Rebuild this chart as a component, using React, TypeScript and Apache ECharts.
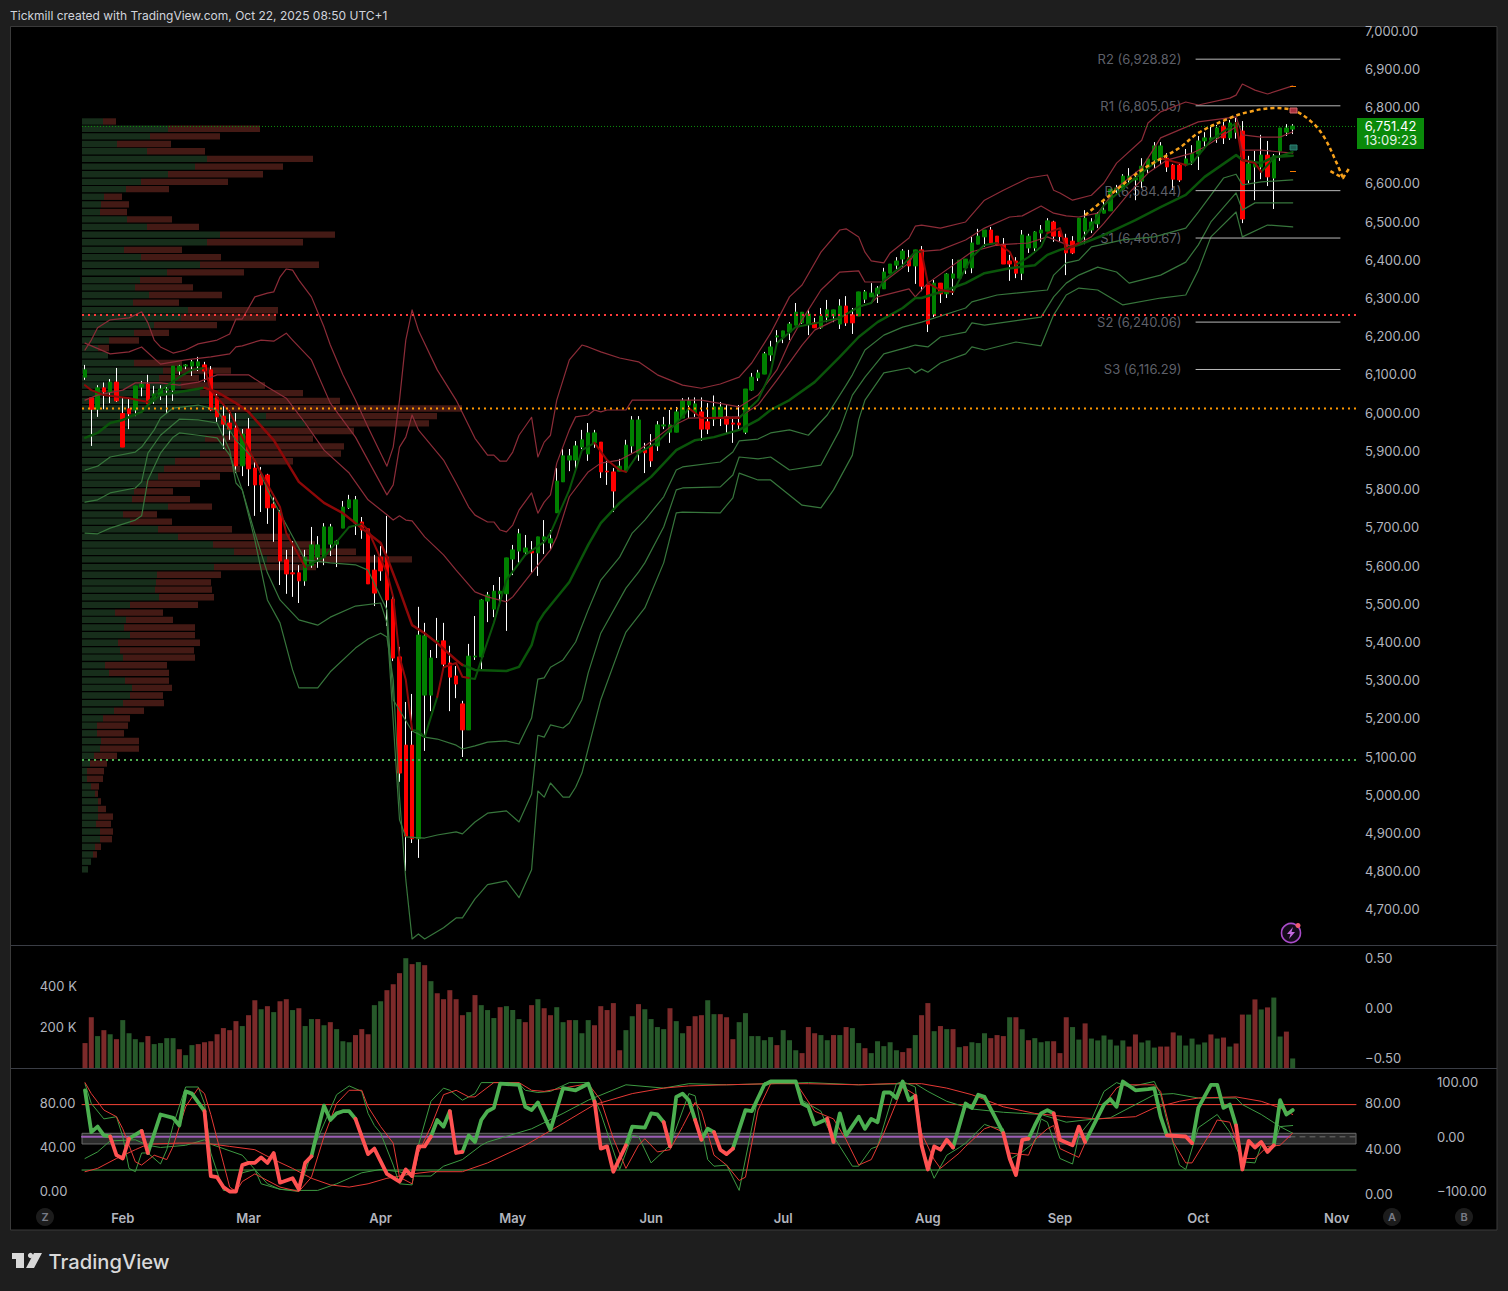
import React, { useEffect, useRef } from "react";
import * as echarts from "echarts";

type P = [number, number];

const LEAD = 11;
const SLOTS = 214;
const monthAt: Record<number, string> = { 6: "Feb", 26: "Mar", 47: "Apr", 68: "May", 90: "Jun", 111: "Jul", 134: "Aug", 155: "Sep", 177: "Oct", 199: "Nov" };

const opens = [6093,6039,6009,6065,6054,6080,5998,6010,6007,6067,6075,6036,6046,6059,6059,6109,6122,6122,6122,6125,6112,6039,5991,5973,5960,5861,5957,5855,5837,5837,5761,5740,5615,5581,5581,5560,5601,5622,5622,5656,5656,5698,5751,5711,5714,5696,5588,5622,5622,5512,5361,5130,5130,4885,5261,5261,5400,5403,5345,5311,5238,5170,5361,5361,5507,5486,5526,5526,5617,5638,5635,5638,5633,5667,5659,5738,5819,5876,5876,5910,5892,5921,5923,5847,5845,5847,5847,5913,5895,5902,5915,5913,5965,5949,5949,5986,6020,5999,6002,5976,5983,5986,5989,5973,5973,5949,6059,6091,6101,6151,6198,6198,6211,6229,6235,6232,6235,6222,6250,6253,6232,6279,6256,6253,6297,6303,6311,6324,6365,6386,6402,6405,6384,6426,6334,6258,6339,6311,6352,6352,6379,6379,6441,6460,6478,6462,6441,6397,6397,6365,6431,6431,6470,6475,6499,6475,6457,6449,6447,6475,6478,6494,6522,6528,6583,6585,6609,6609,6606,6640,6661,6664,6666,6648,6648,6648,6658,6677,6711,6714,6719,6750,6719,6734,6737,6609,6643,6643,6674,6614,6685,6734,6742];
const closes = [6112,6009,6065,6054,6080,6031,5910,5997,6070,6075,6023,6049,6062,6062,6122,6122,6125,6133,6133,6109,6007,5989,5970,5957,5861,5944,5853,5811,5811,5751,5751,5612,5578,5578,5560,5622,5654,5654,5701,5701,5664,5753,5772,5772,5693,5552,5528,5586,5510,5358,5057,4892,4885,5418,5416,5358,5403,5342,5308,5290,5170,5363,5363,5510,5523,5533,5533,5620,5641,5683,5646,5633,5675,5675,5670,5821,5887,5887,5913,5929,5947,5947,5845,5845,5795,5860,5915,5981,5981,5895,5874,5968,5968,5968,6002,6031,6031,6023,5957,5957,6015,6015,5970,5970,5968,6062,6093,6104,6154,6172,6201,6214,6232,6263,6263,6258,6222,6253,6269,6269,6279,6235,6235,6316,6316,6313,6326,6368,6389,6397,6423,6384,6426,6331,6232,6339,6311,6363,6363,6399,6402,6444,6462,6478,6444,6438,6389,6389,6365,6465,6462,6473,6478,6502,6462,6461,6418,6418,6509,6509,6499,6520,6530,6585,6588,6619,6619,6614,6645,6664,6698,6698,6643,6611,6609,6664,6679,6711,6719,6719,6745,6719,6758,6758,6507,6651,6651,6674,6617,6672,6745,6745,6750];
const lows = [6086,5913,5989,6009,6025,6028,5910,5957,5991,6043,6018,6023,6033,5997,6031,6099,6114,6096,6109,6080,6004,5976,5905,5929,5842,5834,5808,5730,5740,5709,5662,5549,5526,5518,5502,5547,5594,5594,5601,5625,5596,5698,5748,5680,5670,5552,5494,5560,5442,5350,5034,4801,4874,4835,5115,5219,5358,5332,5219,5253,5099,5170,5353,5327,5452,5465,5494,5429,5575,5607,5628,5581,5573,5630,5641,5738,5819,5847,5847,5905,5874,5908,5829,5811,5740,5847,5847,5895,5874,5842,5858,5900,5957,5921,5949,5986,5986,5989,5926,5944,5965,5965,5947,5921,5955,5944,6057,6083,6101,6135,6177,6182,6190,6229,6232,6203,6222,6219,6237,6237,6219,6227,6206,6253,6287,6303,6287,6324,6365,6371,6381,6368,6337,6318,6211,6250,6287,6300,6308,6345,6363,6365,6441,6434,6441,6437,6389,6345,6352,6347,6418,6423,6447,6475,6447,6449,6360,6415,6447,6441,6470,6483,6522,6528,6570,6583,6598,6556,6588,6627,6638,6651,6630,6583,6604,6645,6648,6635,6695,6714,6706,6703,6714,6717,6496,6601,6556,6611,6593,6533,6659,6724,6729];
const highs = [6125,6039,6072,6079,6088,6117,6039,6039,6070,6083,6099,6070,6072,6072,6122,6125,6127,6138,6146,6133,6122,6049,6020,6007,5999,5957,5986,5871,5858,5840,5779,5745,5641,5664,5601,5641,5701,5677,5711,5709,5667,5769,5785,5782,5727,5698,5628,5651,5730,5523,5387,5243,5264,5492,5450,5379,5463,5450,5390,5337,5246,5395,5468,5512,5531,5549,5570,5620,5654,5696,5680,5664,5675,5719,5693,5855,5905,5905,5926,5955,5973,5955,5923,5874,5855,5879,5929,5991,5991,5921,5944,5978,5989,6007,6015,6038,6040,6040,6040,6025,6045,6028,6020,5989,6020,6062,6104,6112,6159,6188,6216,6214,6237,6287,6263,6271,6248,6274,6295,6269,6297,6305,6274,6316,6321,6339,6331,6379,6389,6407,6428,6426,6426,6436,6334,6347,6339,6365,6402,6399,6402,6460,6481,6478,6486,6462,6457,6413,6407,6478,6468,6475,6491,6509,6502,6475,6468,6462,6509,6530,6509,6525,6556,6585,6596,6624,6640,6630,6666,6664,6708,6708,6679,6651,6651,6690,6700,6724,6734,6750,6753,6761,6766,6771,6763,6672,6685,6727,6711,6677,6745,6755,6755];

const volumes = [124,250,158,187,167,143,236,172,143,128,158,119,124,148,148,94,65,114,119,128,133,167,197,187,231,207,260,333,289,304,275,328,338,285,294,207,241,241,211,226,192,133,128,163,192,167,309,328,382,411,465,538,509,519,504,426,367,338,382,338,260,275,358,309,285,246,299,304,285,241,226,309,338,294,260,299,226,236,236,172,236,211,304,285,319,89,187,255,314,289,241,202,192,294,231,172,207,255,260,333,265,265,250,143,226,270,158,158,138,153,114,187,138,89,75,202,172,163,138,163,163,202,197,124,99,75,133,109,128,89,80,99,163,260,319,182,207,192,192,104,109,128,124,172,148,163,158,250,250,192,138,148,128,133,133,75,250,202,141,220,146,137,161,141,112,137,107,166,127,137,102,107,107,176,161,112,146,117,127,166,146,151,107,122,263,263,337,288,298,346,156,180,49];
const volumeTone = "RRGRGRGGGG" + "RGGGGRGGRR" + "RRRRRGRRGR" + "GRRGRGGRGR" + "GGGRRRGGRR" + "RGRGRGRRRR" + "RGRGGGRGGG" + "RRGRRGGRGG" + "GRRRRRGGRG" + "GGGRGGRRRG" + "GRRRGGGGGG" + "RGGGRRRGGR" + "GRGGRGGGGG" + "RRGRRGRGRG" + "RGGGRRRGRG" + "RGGGRRRGGR" + "GGGGGGRRGG" + "GRRRGGGGGR" + "GRGRRGRGRG" + "GRG";

const profileLevels = [6762,6743,6723,6703,6684,6664,6644,6624,6604,6585,6565,6545,6525,6506,6486,6466,6446,6426,6407,6387,6367,6347,6328,6308,6288,6268,6249,6229,6209,6189,6169,6150,6130,6110,6090,6071,6051,6031,6011,5991,5972,5952,5932,5912,5893,5873,5853,5833,5814,5794,5774,5754,5734,5715,5695,5675,5655,5636,5616,5596,5576,5556,5537,5517,5497,5477,5458,5438,5418,5398,5378,5359,5339,5319,5299,5280,5260,5240,5220,5200,5181,5161,5141,5121,5102,5082,5062,5042,5022,5003,4983,4963,4943,4924,4904,4884,4864,4844,4825,4805];
const profileUp = [21,86,68,35,65,125,113,86,59,44,22,19,18,45,65,138,125,42,59,118,85,58,53,67,51,106,99,72,52,27,16,26,52,81,77,99,118,138,145,184,223,161,123,143,118,93,82,76,64,52,50,86,41,48,76,96,131,152,185,132,75,74,73,77,48,33,44,42,48,36,38,41,23,27,43,50,48,41,32,21,15,15,19,18,12,8,5,5,9,13,16,16,16,14,18,18,13,11,9,6];
const profileDown = [13,92,70,54,58,106,88,95,87,43,18,28,27,45,52,115,96,58,80,119,77,42,58,73,46,90,95,63,35,30,11,0,48,68,40,84,103,120,235,171,124,111,108,119,141,118,76,62,54,39,58,44,34,42,74,112,102,122,145,102,64,55,57,55,68,48,47,71,65,82,74,72,62,60,44,40,33,41,30,27,31,27,38,39,23,17,17,16,8,3,3,8,15,15,13,12,6,4,0,0];

const upper3: P[] = [[0,6164],[1,6190],[2,6222],[4,6243],[7,6248],[9,6264],[10,6235],[11,6190],[12,6172],[14,6156],[16,6164],[18,6180],[21,6190],[23,6206],[24,6245],[25,6245],[27,6303],[29,6313],[30,6316],[31,6355],[32,6376],[33,6373],[34,6347],[36,6303],[38,6224],[39,6177],[41,6099],[43,6033],[45,5962],[48,5860],[49,5910],[50,6033],[51,6190],[52,6269],[53,6216],[56,6112],[59,6033],[62,5933],[64,5889],[65,5889],[66,5873],[67,5873],[68,5897],[69,5941],[71,5988],[72,5884],[73,5923],[74,5941],[75,6033],[77,6138],[79,6177],[80,6172],[82,6159],[85,6143],[88,6133],[91,6099],[95,6072],[98,6064],[101,6075],[104,6093],[106,6130],[109,6208],[112,6303],[114,6334],[117,6420],[120,6478],[121,6481],[123,6460],[124,6420],[125,6397],[127,6392],[128,6418],[131,6457],[132,6488],[133,6491],[136,6483],[140,6499],[143,6556],[146,6582],[150,6614],[153,6622],[154,6582],[155,6575],[157,6556],[160,6569],[162,6601],[164,6653],[168,6713],[169,6758],[171,6787],[175,6813],[177,6805],[182,6823],[183,6831],[184,6860],[186,6844],[188,6834],[192,6855]];
const upper2: P[] = [[0,6182],[4,6154],[7,6159],[9,6172],[12,6127],[16,6138],[20,6146],[23,6154],[24,6172],[25,6175],[28,6190],[30,6187],[32,6208],[33,6190],[36,6138],[39,6025],[43,5936],[48,5785],[49,5811],[50,5910],[51,5936],[52,5994],[53,5955],[57,5876],[59,5816],[61,5753],[62,5732],[64,5714],[65,5714],[66,5693],[67,5688],[68,5706],[69,5745],[71,5790],[72,5737],[73,5766],[74,5785],[75,5868],[77,5955],[78,5989],[80,5994],[81,6007],[82,6002],[83,6007],[86,6007],[87,6033],[90,6033],[98,6033],[104,6015],[107,6046],[110,6112],[112,6185],[114,6243],[117,6321],[120,6368],[123,6371],[124,6342],[127,6342],[131,6392],[132,6421],[136,6426],[140,6452],[143,6483],[147,6512],[149,6515],[152,6541],[154,6522],[156,6515],[158,6512],[161,6522],[162,6543],[164,6588],[168,6640],[171,6719],[177,6761],[183,6774],[184,6727],[187,6721],[190,6721],[192,6735]];
const upper1: P[] = [[0,6033],[2,6046],[6,6059],[8,6078],[12,6078],[15,6072],[18,6080],[21,6099],[26,6099],[29,6067],[32,6038],[35,5973],[38,5902],[42,5842],[45,5772],[48,5733],[49,5719],[50,5730],[51,5719],[52,5717],[54,5675],[57,5628],[59,5588],[62,5531],[64,5518],[67,5505],[68,5518],[71,5581],[74,5641],[75,5675],[77,5780],[80,5845],[82,5868],[85,5876],[88,5902],[91,5936],[93,5962],[96,5986],[104,5989],[107,6020],[110,6085],[114,6177],[116,6216],[120,6248],[123,6277],[125,6287],[126,6303],[131,6324],[132,6303],[134,6339],[141,6421],[145,6439],[150,6444],[153,6460],[157,6434],[160,6460],[162,6496],[166,6575],[169,6627],[172,6661],[176,6679],[178,6695],[183,6748],[184,6687],[187,6687],[192,6679]];
const lower1: P[] = [[0,5850],[2,5860],[4,5884],[8,5897],[9,5910],[11,5955],[12,5986],[14,6012],[18,6020],[21,6007],[24,5928],[27,5876],[29,5798],[35,5615],[39,5607],[43,5602],[45,5588],[48,5484],[49,5249],[52,5167],[54,5151],[56,5146],[59,5130],[60,5120],[62,5128],[64,5138],[67,5141],[69,5133],[71,5201],[72,5303],[73,5306],[74,5334],[76,5353],[78,5400],[80,5484],[82,5562],[85,5622],[87,5685],[89,5719],[92,5780],[94,5850],[95,5858],[101,5871],[103,5897],[104,5926],[107,5931],[109,5947],[112,5955],[115,5941],[118,5994],[121,6072],[122,6099],[124,6164],[127,6203],[130,6224],[133,6237],[140,6274],[141,6290],[145,6308],[153,6321],[154,6360],[156,6392],[158,6399],[160,6434],[165,6452],[170,6460],[175,6483],[177,6525],[181,6614],[183,6624],[184,6596],[187,6604],[192,6609]];
const lower2: P[] = [[0,5766],[2,5772],[4,5790],[8,5803],[9,5819],[10,5894],[12,5941],[15,5983],[18,5981],[21,5973],[23,5902],[24,5816],[25,5798],[27,5685],[29,5581],[31,5510],[34,5458],[37,5444],[39,5465],[43,5494],[47,5502],[48,5450],[50,4935],[51,4890],[54,4887],[56,4895],[59,4903],[60,4898],[62,4929],[64,4952],[67,4958],[69,4929],[71,5002],[72,5156],[73,5151],[74,5183],[76,5175],[77,5188],[79,5249],[80,5319],[82,5423],[86,5541],[88,5583],[89,5607],[92,5701],[94,5798],[95,5803],[101,5806],[103,5837],[104,5884],[107,5879],[109,5884],[112,5850],[117,5863],[120,5955],[122,6046],[124,6093],[127,6154],[131,6172],[132,6177],[134,6172],[136,6198],[140,6211],[141,6235],[143,6229],[152,6250],[154,6303],[156,6339],[158,6360],[161,6381],[164,6368],[166,6339],[171,6360],[175,6394],[177,6439],[179,6499],[183,6575],[184,6530],[186,6549],[192,6549]];
const lower3: P[] = [[0,5685],[2,5683],[4,5698],[8,5719],[9,5730],[10,5824],[12,5894],[14,5936],[15,5947],[18,5941],[21,5934],[23,5889],[25,5798],[27,5667],[29,5510],[31,5450],[33,5327],[34,5280],[37,5280],[39,5322],[43,5384],[45,5408],[47,5423],[48,5413],[49,5301],[50,4994],[51,4778],[52,4623],[53,4636],[54,4623],[57,4652],[59,4678],[60,4678],[62,4728],[64,4765],[67,4775],[69,4731],[71,4804],[72,5010],[73,4994],[74,5031],[76,4994],[77,4994],[78,5020],[79,5057],[82,5249],[85,5384],[86,5426],[89,5489],[92,5607],[94,5738],[95,5740],[101,5738],[103,5777],[104,5842],[107,5824],[109,5824],[114,5758],[117,5751],[119,5798],[122,5889],[123,5981],[124,6033],[127,6104],[131,6117],[132,6104],[133,6114],[134,6106],[136,6130],[140,6154],[141,6172],[143,6164],[148,6185],[152,6175],[154,6256],[156,6308],[158,6326],[161,6321],[165,6282],[171,6300],[175,6308],[177,6373],[179,6460],[183,6525],[184,6460],[188,6491],[192,6486]];

const fastMaRise: P[][] = [[[10,6028],[12,6059],[15,6093],[17,6112],[19,6117]],[[35,5596],[38,5622],[40,5662],[42,5701],[44,5709]],[[52,5170],[53,5167],[54,5151],[56,5256]],[[61,5306],[62,5303],[63,5353],[65,5450],[67,5562],[70,5628],[73,5662],[74,5685],[77,5798],[79,5902],[81,5921]],[[86,5845],[88,5894],[91,5923],[95,5989],[96,6012]],[[104,5986],[107,6033],[109,6104],[110,6182],[113,6224],[117,6237],[120,6248],[123,6277],[125,6287],[127,6347],[130,6386],[132,6421],[133,6421]],[[138,6316],[139,6347],[141,6407],[143,6439],[145,6444]],[[148,6387],[150,6407],[152,6434],[153,6470]],[[158,6444],[160,6486],[162,6543],[166,6601],[168,6627],[171,6666]],[[175,6648],[176,6653],[179,6713],[183,6758]],[[187,6630],[189,6666],[192,6682]]];
const fastMaFall: P[][] = [[[0,6072],[1,6059],[3,6046],[7,6038],[10,6028]],[[19,6117],[20,6059],[23,6002],[25,5936],[28,5842],[31,5753],[32,5685],[35,5596]],[[44,5709],[45,5693],[48,5581],[49,5518],[50,5361],[51,5301],[52,5170]],[[56,5256],[57,5334],[59,5345],[60,5309],[61,5306]],[[81,5921],[83,5876],[85,5850],[86,5845]],[[96,6012],[98,5986],[104,5986]],[[133,6421],[134,6339],[136,6321],[138,6316]],[[145,6444],[147,6421],[148,6387]],[[153,6470],[155,6483],[156,6426],[158,6444]],[[171,6666],[174,6653],[175,6648]],[[183,6758],[184,6661],[186,6653],[187,6630]]];
const slowMaRise: P[][] = [[[0,5934],[2,5947],[4,5973],[6,5981],[9,6002],[10,6020],[12,6046],[15,6054],[19,6065]],[[60,5340],[62,5327],[67,5324],[69,5335],[71,5392],[72,5450],[73,5476],[77,5557],[80,5654],[82,5711],[85,5764],[88,5806],[90,5832],[94,5902],[97,5928],[100,5936],[104,5955],[107,5981],[109,6007],[112,6033],[116,6080],[120,6146],[123,6198],[126,6237],[130,6274],[132,6300],[133,6300],[137,6321],[140,6339],[143,6365],[147,6378],[151,6386],[153,6413],[155,6426],[158,6439],[162,6465],[167,6504],[171,6538],[175,6570],[178,6617],[183,6674],[184,6661],[187,6653],[189,6669],[192,6672]]];
const slowMaFall: P[][] = [[[19,6065],[21,6054],[24,6025],[26,6002],[30,5928],[34,5819],[38,5764],[41,5737],[43,5711],[47,5659],[48,5622],[50,5536],[52,5444],[54,5423],[56,5397],[59,5353],[60,5340]]];

const priceTicks = [7000,6900,6800,6600,6500,6400,6300,6200,6100,6000,5900,5800,5700,5600,5500,5400,5300,5200,5100,5000,4900,4800,4700];
const pivotNames = ["R2","R1","P","S1","S2","S3"];
const pivotValues = [6928.82,6805.05,6584.44,6460.67,6240.06,6116.29];
const pivotDrawn = [6925,6803,6581,6457,6237,6113];
const dottedLevels = [6749,6255.6,6011,5091];
const dottedColors = ["#0d8f0d","#ff3b3b","#ff9800","#4caf50"];

const forecastArc: P[] = [[159,6517],[163,6570],[168,6635],[174,6693],[177,6732],[182,6771],[185,6787],[189,6797],[192,6792],[195,6761],[197,6721],[199,6653],[200,6614]];
const forecastHead: P[] = [[198,6632],[200,6614],[201,6640]];

const oscMainRise: P[][] = [[[0,92],[1,54],[2,59],[3,51],[4,50]],[[7,48],[9,55]],[[10,35],[12,70],[14,67],[15,60],[16,91],[17,89],[19,73]],[[36,32],[37,56],[38,78],[39,65],[40,71],[41,73],[42,73],[43,66]],[[55,50],[56,65],[57,59],[58,73]],[[60,36],[61,51],[62,45],[63,65],[64,73],[65,76],[66,98],[69,97],[70,77],[71,74],[72,81],[74,56],[76,94],[78,92],[80,98],[81,82]],[[86,42],[87,59],[89,58],[90,71],[91,70],[92,63]],[[93,41],[94,86],[95,89],[96,83],[97,65]],[[98,47],[99,57],[100,54]],[[103,39],[105,74],[106,73],[108,97],[109,100],[113,100],[114,80],[115,77],[116,61],[118,66]],[[119,45],[120,71],[121,51],[123,68],[124,57],[125,66],[126,63],[127,90],[128,90],[129,85],[130,100],[131,83],[132,87]],[[138,40],[140,80],[141,76],[142,88],[143,86],[146,53]],[[150,48],[151,60],[152,71],[153,74],[154,71]],[[159,45],[162,79],[163,84],[164,77],[165,100],[167,92],[169,93],[170,94],[171,68],[172,51]],[[176,44],[177,76],[179,97],[180,97],[181,76],[182,79],[183,60]],[[189,42],[190,83],[191,70],[192,74]]];
const oscMainFall: P[][] = [[[4,50],[5,33],[6,30],[7,48]],[[9,55],[10,35]],[[19,73],[20,14],[21,13],[22,4],[23,0],[24,0],[25,24],[26,26],[27,26],[28,31],[29,26],[30,35],[31,8],[33,12],[34,2],[35,26],[36,32]],[[43,66],[45,34],[46,39],[48,16],[50,9],[51,20],[52,14],[53,41],[54,41],[55,50]],[[58,73],[59,35],[60,36]],[[81,82],[82,39],[83,41],[84,18],[86,42]],[[92,63],[93,41]],[[97,65],[98,47]],[[100,54],[101,38],[102,34],[103,39]],[[118,66],[119,45]],[[132,87],[133,42],[134,20],[135,41],[136,38],[137,47],[138,40]],[[146,53],[147,30],[148,15],[149,47],[150,48]],[[154,71],[155,47],[157,42],[158,59],[159,45]],[[172,51],[175,50],[176,44]],[[183,60],[184,20],[185,46],[186,40],[187,45],[188,36],[189,42]]];
const oscFastGreen: P[] = [[0,98],[1,80],[3,66],[5,68],[6,50],[7,21],[8,18],[9,35],[10,35],[12,25],[13,38],[14,60],[16,95],[18,95],[19,80],[20,35],[22,1],[24,0],[25,17],[27,20],[28,7],[31,2],[34,0],[36,35],[40,88],[42,96],[44,91],[45,71],[46,60],[47,53],[49,24],[50,7],[52,6],[53,42],[55,82],[57,94],[58,92],[60,83],[62,89],[63,99],[66,99],[69,98],[70,92],[72,90],[74,91],[77,99],[80,99],[82,71],[85,20],[87,51],[88,50],[90,26],[93,42],[96,89],[97,87],[98,57],[99,29],[100,23],[102,24],[104,1],[107,86],[108,99],[113,99],[114,83],[117,73],[118,59],[120,41],[122,23],[123,23],[125,39],[126,41],[129,98],[130,100],[132,95],[133,41],[135,12],[137,33],[139,40],[140,44],[143,61],[144,59],[146,57],[147,29],[149,36],[151,45],[152,66],[153,63],[155,30],[157,25],[158,51],[160,65],[162,91],[164,99],[166,95],[170,100],[171,88],[172,64],[174,24],[175,20],[177,58],[180,70],[182,54],[184,27],[186,26],[187,42],[188,39],[189,42],[190,59],[192,60]];
const oscFastRed: P[] = [[0,99],[1,89],[3,74],[5,68],[6,57],[7,42],[8,27],[9,24],[11,33],[13,29],[14,41],[16,77],[18,94],[19,89],[20,70],[22,26],[23,4],[24,0],[25,9],[27,16],[28,13],[31,4],[34,0],[36,13],[38,50],[40,80],[42,92],[44,92],[45,77],[47,59],[49,44],[50,13],[52,7],[53,35],[55,59],[57,88],[59,92],[61,86],[62,86],[65,99],[69,99],[71,92],[73,91],[77,95],[80,98],[82,83],[84,48],[86,21],[88,42],[89,48],[91,36],[93,38],[95,59],[97,81],[98,73],[100,33],[102,24],[104,10],[105,13],[107,74],[109,98],[113,99],[116,73],[119,66],[121,47],[123,24],[125,29],[127,53],[130,95],[132,88],[133,53],[135,29],[136,21],[139,35],[140,41],[143,57],[144,59],[146,54],[147,35],[150,33],[151,47],[153,57],[154,60],[155,39],[158,31],[160,57],[162,79],[164,94],[165,97],[170,97],[171,91],[173,45],[175,26],[176,26],[179,54],[180,65],[182,63],[184,30],[186,30],[188,41],[190,42],[192,53]];
const oscSlowGreen: P[] = [[0,30],[2,36],[4,46],[8,47],[10,42],[12,40],[16,42],[19,47],[20,43],[25,33],[27,20],[29,7],[31,2],[34,1],[37,1],[40,7],[44,17],[47,20],[50,18],[52,14],[55,14],[57,23],[60,29],[63,42],[64,45],[71,57],[76,71],[80,83],[86,97],[92,94],[96,98],[102,97],[109,98],[115,99],[123,97],[130,98],[132,98],[134,91],[137,82],[141,75],[146,72],[149,71],[152,70],[156,63],[159,65],[163,67],[167,79],[170,88],[173,89],[177,85],[183,85],[184,79],[187,70],[190,59],[192,53]];
const oscSlowRed: P[] = [[0,18],[2,21],[5,30],[8,38],[10,43],[15,44],[19,44],[23,41],[27,38],[30,29],[33,21],[36,12],[39,6],[42,4],[45,7],[48,12],[52,16],[55,18],[60,18],[62,22],[64,26],[70,42],[76,62],[81,79],[87,89],[92,94],[96,96],[102,97],[109,98],[115,98],[123,97],[128,98],[133,98],[137,94],[141,88],[146,77],[151,71],[156,68],[161,66],[167,68],[170,76],[174,82],[177,85],[183,86],[187,82],[190,76],[192,70]];
const oscOverbought = 79;
const oscOversold = 19.5;
const oscBandLow = 43.2;
const oscBandHigh = 52.9;
const oscMid = 49.7;
const oscLeftTicks = [80, 40, 0];
const oscRightTicks = [80, 40, 0];
const oscFarTicks = [100, 0, -100];
const volumeTicks = [200, 400];
const volumeRightTicks = [0.5, 0, -0.5];

const FONT = "Inter, 'Noto Sans', sans-serif";
const LABEL = "#b2b5be";
const GRID_LEFT = 12.67;
const GRID_W = 1346.06;
const PROFILE_MIN = -69.33;
const PROFILE_MAX = 1276.73;
const BAND_RED = "#8c2c38";
const BAND_GREEN = "#37763c";

const at = (pts: P[]) => pts.map(([i, v]) => [i + LEAD, v]);
const joined = (segs: P[][]) => {
  const out: any[] = [];
  segs.forEach((s) => {
    out.push(...at(s));
    out.push([s[s.length - 1][0] + LEAD, null]);
  });
  return out;
};
const money = (v: number) => v.toLocaleString("en-US", { minimumFractionDigits: 2, maximumFractionDigits: 2 }).replace("-", "\u2212");

const line = (name: string, data: any[], color: string, width: number, extra: any = {}) => ({
  name,
  type: "line",
  data,
  showSymbol: false,
  symbol: "none",
  silent: true,
  connectNulls: false,
  lineStyle: { color, width, join: "round", cap: "round", ...(extra.lineStyle || {}) },
  xAxisIndex: 0,
  yAxisIndex: 0,
  ...Object.fromEntries(Object.entries(extra).filter(([k]) => k !== "lineStyle")),
});

const valueAxisBase = {
  type: "value",
  axisLine: { show: false },
  axisTick: { show: false },
  splitLine: { show: false },
};

function buildOption() {
  const categories = Array.from({ length: SLOTS }, (_, i) => monthAt[i - LEAD] || "");
  const catAxis = (gridIndex: number, labels: boolean) => ({
    type: "category",
    gridIndex,
    data: categories,
    axisLine: { show: false },
    axisTick: { show: false },
    splitLine: { show: false },
    axisLabel: labels
      ? { show: true, interval: 0, color: LABEL, fontFamily: FONT, fontSize: 13, fontWeight: 600, margin: 4, hideOverlap: false }
      : { show: false },
  });
  const hiddenX = (gridIndex: number) => ({
    type: "value",
    gridIndex,
    min: PROFILE_MIN,
    max: PROFILE_MAX,
    show: false,
    splitLine: { show: false },
  });
  const wicks = opens.map((o, i) => [i + LEAD, o, closes[i], lows[i], highs[i]]);
  const bodies = opens.map((o, i) => [i + LEAD, o, closes[i], Math.min(o, closes[i]), Math.max(o, closes[i])]);
  const profileRows = profileLevels.map((p, i) => [p, profileUp[i], profileDown[i]]);
  const volumeData = volumes.map((v, i) => ({
    value: [i + LEAD, v],
    itemStyle: { color: volumeTone[i] === "R" ? "#7c2a2a" : "#27592a" },
  }));
  const bandColor = "#6b6b6b";

  const series: any[] = [
    {
      name: "Volume profile",
      type: "custom",
      xAxisIndex: 1,
      yAxisIndex: 0,
      silent: true,
      data: profileRows,
      encode: { x: 1, y: 0 },
      renderItem: (_: any, api: any) => {
        const price = api.value(0);
        const up = api.value(1);
        const down = api.value(2);
        const start = api.coord([0, price]);
        const mid = api.coord([up, price]);
        const end = api.coord([up + down, price]);
        const h = api.size([0, 19.76])[1] - 1.2;
        return {
          type: "group",
          children: [
            { type: "rect", shape: { x: start[0], y: start[1] - h / 2, width: mid[0] - start[0], height: h }, style: { fill: "#172e1b" } },
            { type: "rect", shape: { x: mid[0], y: start[1] - h / 2, width: end[0] - mid[0], height: h }, style: { fill: "#441a15" } },
          ],
        };
      },
    },
    line("Upper band 3", at(upper3), BAND_RED, 1.2),
    line("Upper band 2", at(upper2), BAND_RED, 1.2),
    line("Upper band 1", at(upper1), BAND_RED, 1.2),
    line("Lower band 1", at(lower1), BAND_GREEN, 1.2),
    line("Lower band 2", at(lower2), BAND_GREEN, 1.2),
    line("Lower band 3", at(lower3), BAND_GREEN, 1.2),
    line("Slow MA up", joined(slowMaRise), "#0a550a", 2.5),
    line("Slow MA down", joined(slowMaFall), "#8e0808", 2.5),
    line("Fast MA up", joined(fastMaRise), "#0a550a", 2),
    line("Fast MA down", joined(fastMaFall), "#8e0808", 2),
    ...dottedLevels.map((p, i) =>
      line("Level " + p, [[0, p], [1275, p]], dottedColors[i], i === 0 ? 1 : 2, {
        xAxisIndex: 1,
        lineStyle: { type: i === 0 ? [1, 2] : [2, 4], cap: "butt" },
      })
    ),
    ...pivotDrawn.map((p) =>
      line("Pivot " + p, [[1114, p], [1258, p]], "#b8b8b8", 1, { xAxisIndex: 1 })
    ),
    {
      name: "Pivot labels",
      type: "scatter",
      xAxisIndex: 1,
      yAxisIndex: 0,
      silent: true,
      symbolSize: 1,
      itemStyle: { color: "rgba(0,0,0,0)" },
      data: pivotValues.map((p, i) => ({
        value: [1100, pivotDrawn[i]],
        label: {
          show: true,
          position: "left",
          distance: 0,
          color: "#787b86",
          fontFamily: FONT,
          fontSize: 13,
          formatter: `${pivotNames[i]} (${money(p)})`,
        },
      })),
    },
    {
      name: "Wicks",
      type: "candlestick",
      data: wicks,
      encode: { x: 0, y: [1, 2, 3, 4] },
      barWidth: 1,
      silent: true,
      xAxisIndex: 0,
      yAxisIndex: 0,
      itemStyle: { color: "#ffffff", color0: "#ffffff", borderColor: "#ffffff", borderColor0: "#ffffff", borderColorDoji: "#ffffff", borderWidth: 1 },
    },
    {
      name: "Bodies",
      type: "candlestick",
      data: bodies,
      encode: { x: 0, y: [1, 2, 3, 4] },
      barWidth: 4,
      silent: true,
      xAxisIndex: 0,
      yAxisIndex: 0,
      itemStyle: { color: "#008000", color0: "#ff0000", borderColor: "#008000", borderColor0: "#ff0000", borderColorDoji: "#008000", borderWidth: 1 },
    },
    line("Forecast", at(forecastArc), "#f7a11a", 2.5, { smooth: 0.35, lineStyle: { type: [4, 3], cap: "butt" } }),
    line("Forecast head", at(forecastHead), "#f7a11a", 2.5, { lineStyle: { type: [4, 3], cap: "butt" } }),
    {
      name: "Volume",
      type: "bar",
      xAxisIndex: 2,
      yAxisIndex: 1,
      silent: true,
      barWidth: 5,
      data: volumeData,
    },
    {
      name: "Oscillator band",
      type: "custom",
      xAxisIndex: 4,
      yAxisIndex: 3,
      silent: true,
      data: [[0, 1274, oscBandLow, oscBandHigh]],
      encode: { x: [0, 1], y: [2, 3] },
      renderItem: (_: any, api: any) => {
        const a = api.coord([api.value(0), api.value(3)]);
        const b = api.coord([api.value(1), api.value(2)]);
        return {
          type: "rect",
          shape: { x: a[0], y: a[1], width: b[0] - a[0], height: b[1] - a[1] },
          style: { fill: "#2b2b2b", stroke: bandColor, lineWidth: 1 },
        };
      },
    },
    line("Oscillator mid", [[0, oscMid], [1208, oscMid]], "#9a5cb4", 2, { xAxisIndex: 4, yAxisIndex: 3 }),
    line("Oscillator mid dashed", [[1208, oscMid], [1274, oscMid]], "#6f6f6f", 1, { xAxisIndex: 4, yAxisIndex: 3, lineStyle: { type: [5, 5] } }),
    line("Overbought", [[0, oscOverbought], [1274, oscOverbought]], "#f44336", 1, { xAxisIndex: 4, yAxisIndex: 3 }),
    line("Oversold", [[0, oscOversold], [1274, oscOversold]], "#4caf50", 1, { xAxisIndex: 4, yAxisIndex: 3 }),
    line("Slow green", at(oscSlowGreen), "#3d9a42", 1, { xAxisIndex: 3, yAxisIndex: 3 }),
    line("Slow red", at(oscSlowRed), "#e53935", 1, { xAxisIndex: 3, yAxisIndex: 3 }),
    line("Fast green", at(oscFastGreen), "#3d9a42", 1, { xAxisIndex: 3, yAxisIndex: 3 }),
    line("Fast red", at(oscFastRed), "#e53935", 1, { xAxisIndex: 3, yAxisIndex: 3 }),
    line("Main rising", joined(oscMainRise), "#4caf50", 3.8, { xAxisIndex: 3, yAxisIndex: 3 }),
    line("Main falling", joined(oscMainFall), "#ff5252", 3.8, { xAxisIndex: 3, yAxisIndex: 3 }),
  ];

  const rightText = { color: LABEL, fontFamily: FONT, fontSize: 13 };

  const graphic: any[] = [
    { type: "rect", z: -100, silent: true, shape: { x: 10.5, y: 26.5, width: 1486.5, height: 1203.5 }, style: { fill: "#000000", stroke: "#3a3a3a", lineWidth: 1 } },
    { type: "line", z: 50, silent: true, shape: { x1: 11, y1: 945.5, x2: 1497, y2: 945.5 }, style: { stroke: "#3a3d45", lineWidth: 1 } },
    { type: "line", z: 50, silent: true, shape: { x1: 11, y1: 1068.5, x2: 1497, y2: 1068.5 }, style: { stroke: "#3a3d45", lineWidth: 1 } },
    { type: "text", z: 50, silent: true, x: 10, y: 15, style: { text: "Tickmill created with TradingView.com, Oct 22, 2025 08:50 UTC+1", fill: "#d1d4dc", font: `12px ${FONT}`, verticalAlign: "middle" } },
    { type: "rect", z: 60, silent: true, shape: { x: 1357, y: 118, width: 67, height: 31 }, style: { fill: "#0a8a0a" } },
    { type: "text", z: 61, silent: true, x: 1390.5, y: 126, style: { text: "6,751.42", fill: "#ffffff", font: `13px ${FONT}`, align: "center", verticalAlign: "middle" } },
    { type: "text", z: 61, silent: true, x: 1390.5, y: 140, style: { text: "13:09:23", fill: "#e6f3e6", font: `13px ${FONT}`, align: "center", verticalAlign: "middle" } },
    { type: "rect", z: 40, silent: true, shape: { x: 1290, y: 108, width: 7, height: 5 }, style: { fill: "#a8323e", stroke: "#d66a6a", lineWidth: 1 } },
    { type: "rect", z: 40, silent: true, shape: { x: 1290, y: 145, width: 7, height: 5 }, style: { fill: "#1d5e52", stroke: "#2a8574", lineWidth: 1 } },
    { type: "line", z: 40, silent: true, shape: { x1: 1290, y1: 171.5, x2: 1296, y2: 171.5 }, style: { stroke: "#f57c00", lineWidth: 1 } },
    { type: "line", z: 40, silent: true, shape: { x1: 1290, y1: 86.5, x2: 1296, y2: 86.5 }, style: { stroke: "#f57c00", lineWidth: 1 } },
    { type: "circle", z: 40, silent: true, shape: { cx: 1291, cy: 933, r: 9.5 }, style: { fill: "#140a1a", stroke: "#a94bc9", lineWidth: 1.6 } },
    { type: "polygon", z: 41, silent: true, shape: { points: [[1293, 927], [1287, 934], [1290.5, 934], [1289, 939], [1295, 932], [1291.5, 932]] }, style: { fill: "#c46be0" } },
    { type: "circle", z: 41, silent: true, shape: { cx: 1298, cy: 925.5, r: 2.5 }, style: { fill: "#ef5a6f" } },
    ...[["Z", 45], ["A", 1392], ["B", 1464]].flatMap(([t, x]: any) => [
      { type: "circle", z: 50, silent: true, shape: { cx: x, cy: 1217, r: 9 }, style: { fill: "#1c1c1c" } },
      { type: "text", z: 51, silent: true, x, y: 1217, style: { text: t, fill: "#787b86", font: `600 11px ${FONT}`, align: "center", verticalAlign: "middle" } },
    ]),
    { type: "polygon", z: 50, silent: true, shape: { points: [[12, 1253], [24, 1253], [24, 1268], [16, 1268], [16, 1259], [12, 1259]] }, style: { fill: "#d9d9d9" } },
    { type: "circle", z: 50, silent: true, shape: { cx: 30.5, cy: 1255.5, r: 2.6 }, style: { fill: "#d9d9d9" } },
    { type: "polygon", z: 50, silent: true, shape: { points: [[34, 1253], [42, 1253], [34, 1268], [26, 1268]] }, style: { fill: "#d9d9d9" } },
    { type: "text", z: 50, silent: true, x: 48.5, y: 1261, style: { text: "TradingView", fill: "#d9d9d9", font: `500 20.2px ${FONT}`, verticalAlign: "middle" } },
  ];

  return {
    animation: false,
    backgroundColor: "#1e1e1e",
    tooltip: { show: false },
    grid: [
      { left: GRID_LEFT, width: GRID_W, top: 27, height: 918 },
      { left: GRID_LEFT, width: GRID_W, top: 946, height: 122.5 },
      { left: GRID_LEFT, width: GRID_W, top: 1070, height: 137 },
    ],
    xAxis: [catAxis(0, false), hiddenX(0), catAxis(1, false), catAxis(2, true), hiddenX(2)],
    yAxis: [
      {
        ...valueAxisBase,
        gridIndex: 0,
        position: "right",
        min: 4607.1,
        max: 7009.2,
        axisLabel: { ...rightText, margin: 6.3, customValues: priceTicks, formatter: money },
      },
      {
        ...valueAxisBase,
        gridIndex: 1,
        position: "left",
        min: 0,
        max: 597.5,
        axisLabel: { ...rightText, inside: true, margin: 27, padding: [0, 0, 6, 0], customValues: volumeTicks, formatter: (v: number) => `${v} K` },
      },
      {
        ...valueAxisBase,
        gridIndex: 1,
        position: "right",
        min: -0.605,
        max: 0.615,
        axisLabel: { ...rightText, margin: 6.3, customValues: volumeRightTicks, formatter: money },
      },
      {
        ...valueAxisBase,
        gridIndex: 2,
        position: "left",
        min: -14.1,
        max: 110.45,
        axisLabel: { ...rightText, inside: true, margin: 27, customValues: oscLeftTicks, formatter: money },
      },
      {
        ...valueAxisBase,
        gridIndex: 2,
        position: "right",
        min: -10.99,
        max: 109.45,
        axisLabel: { ...rightText, margin: 6.3, customValues: oscRightTicks, formatter: money },
      },
      {
        ...valueAxisBase,
        gridIndex: 2,
        position: "right",
        offset: 72,
        min: -129.95,
        max: 122.6,
        axisLabel: { ...rightText, margin: 6.3, customValues: oscFarTicks, formatter: money },
      },
    ],
    series,
    graphic,
  };
}

export default function App() {
  const ref = useRef<HTMLDivElement>(null);
  useEffect(() => {
    if (!ref.current) return;
    document.body.style.margin = "0";
    document.body.style.background = "#1e1e1e";
    const chart = echarts.init(ref.current, undefined, { renderer: "svg", width: 1508, height: 1291 });
    chart.setOption(buildOption() as any);
    return () => chart.dispose();
  }, []);
  return <div ref={ref} style={{ position: "absolute", left: 0, top: 0, width: 1508, height: 1291 }} />;
}
